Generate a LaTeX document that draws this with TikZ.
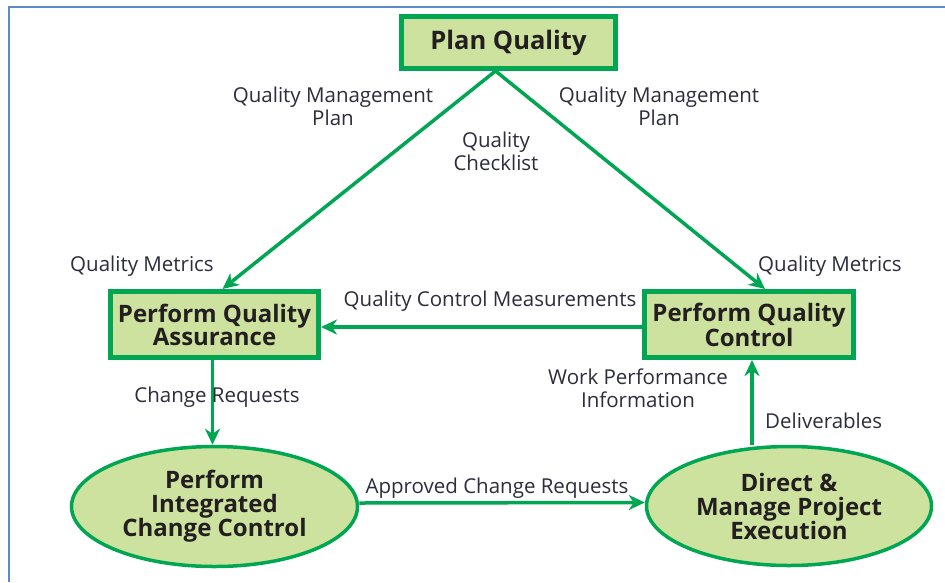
\documentclass[tikz,border=0pt]{standalone}
\usepackage{fontspec}
\setmainfont{Open Sans}
\usetikzlibrary{shapes.geometric,arrows.meta}
\definecolor{gline}{RGB}{0,166,81}
\definecolor{gfill}{RGB}{205,226,158}
\definecolor{frameblue}{RGB}{91,139,205}
\definecolor{boxtext}{RGB}{35,31,32}
\definecolor{labtext}{RGB}{45,45,60}
\tikzset{
  procbox/.style={draw=gline, line width=5pt, fill=gfill, inner sep=0pt, align=center,
    font=\fontsize{24}{23}\selectfont\bfseries, text=boxtext},
  procell/.style={ellipse, draw=gline, line width=3.5pt, fill=gfill, inner sep=0pt, align=center,
    font=\fontsize{24}{24}\selectfont\bfseries, text=boxtext},
  arr/.style={draw=gline, line width=3.5pt, -{Stealth[length=16pt,width=15pt,inset=5pt]}},
  lab/.style={font=\fontsize{20.5}{23}\selectfont, text=labtext, align=center, inner sep=0pt}
}
\begin{document}
\begin{tikzpicture}[x=1pt,y=-1pt]
\useasboundingbox (0,0) rectangle (945,582);
\fill[white] (0,0) rectangle (945,582);
\draw[frameblue, line width=2pt] (8.5,582) -- (8.5,6.5) -- (945,6.5);

\node[procbox, minimum width=214pt, minimum height=52pt, font=\fontsize{25.5}{23}\selectfont\bfseries] (pq) at (508.5,42.5) {Plan Quality};
\node[procbox, minimum width=208pt, minimum height=66pt] (qa) at (214.5,324.5) {Perform Quality\\Assurance};
\node[procbox, minimum width=209pt, minimum height=66pt] (qc) at (749,324.5) {Perform Quality\\Control};
\node[procell, minimum width=286pt, minimum height=120pt] (icc) at (214.5,506.5) {Perform\\Integrated\\Change Control};
\node[procell, minimum width=285pt, minimum height=119pt] (dm) at (789,506) {Direct \&\\Manage Project\\Execution};

\coordinate (pqs) at ([xshift=-13pt]pq.south);
\coordinate (qan) at ([xshift=8pt]qa.north);
\coordinate (qcn) at ([xshift=16pt]qc.north);
\coordinate (qcs) at ([xshift=3pt]qc.south);
\coordinate (qas) at ([xshift=-2pt]qa.south);

\draw[arr] (pqs) -- (qan);
\draw[arr] (pqs) -- (qcn);
\draw[arr] ([yshift=-2.5pt]qc.west) -- ([yshift=-2.5pt]qa.east);
\draw[arr] (qas) -- (qas |- icc.north);
\draw[arr] ([yshift=3.5pt]icc.east) -- ([yshift=3.5pt]dm.west);
\draw[arr] (qcs |- dm.north) -- (qcs);

\node[lab] (l1) at (333,106) {Quality Management\\Plan};
\node[lab] (l2) at (659,106) {Quality Management\\Plan};
\node[lab] (l3) at (496,151) {Quality\\Checklist};
\node[lab, anchor=west] (l4) at (70,266) {Quality Metrics};
\node[lab, anchor=west] (l5) at (758,266) {Quality Metrics};
\node[lab] (l6) at (490,301) {Quality Control Measurements};
\node[lab] (l7) at (217,397) {Change Requests};
\node[lab] (l8) at (638,388) {Work Performance\\Information};
\node[lab, anchor=west] (l9) at (765,421) {Deliverables};
\node[lab] (l10) at (497,488) {Approved Change Requests};
\end{tikzpicture}
\end{document}
